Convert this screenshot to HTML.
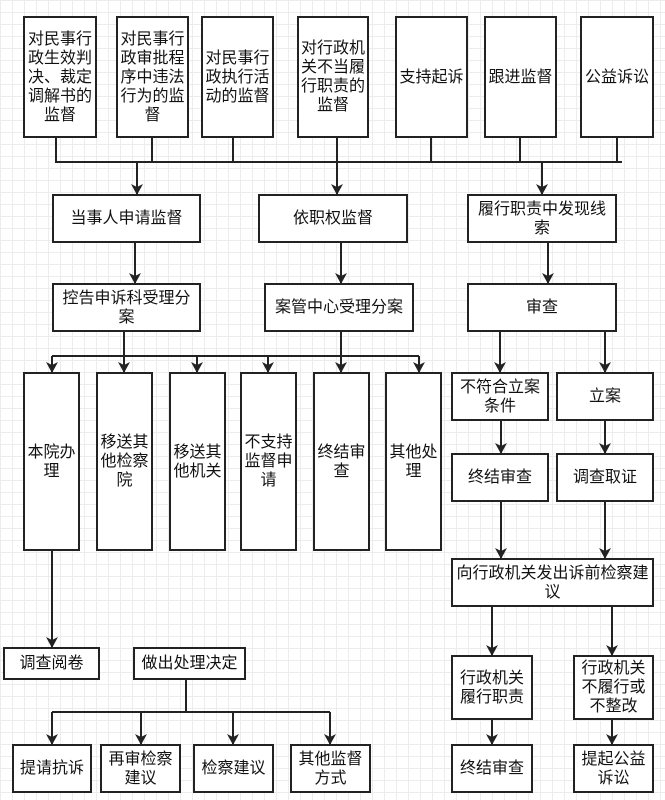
<!DOCTYPE html>
<html><head><meta charset="utf-8"><style>
body{margin:0;width:665px;height:800px;overflow:hidden;background:#fff;
background-image:linear-gradient(#ececec 1px,transparent 1px),linear-gradient(90deg,#ececec 1px,transparent 1px);background-size:12px 12px;
font-family:"Liberation Sans","Noto Sans CJK SC",sans-serif;position:relative}
.b{position:absolute;box-sizing:border-box;border:2px solid #222;background:#fff;display:flex;align-items:center;justify-content:center;text-align:center;font-size:16px;line-height:19px;color:#111;padding:0 2px}
svg{position:absolute;left:0;top:0;z-index:5}
</style></head><body>
<svg width="665" height="800">
<defs><marker id="a" markerWidth="10" markerHeight="10" refX="4" refY="8" orient="auto" markerUnits="userSpaceOnUse" viewBox="0 0 10 10"><path d="M0,0 L4,8 L8,0 L4,2 Z" fill="#222" transform="rotate(-90 4 4) translate(0 0)"/></marker></defs>
<g stroke="#222" stroke-width="2" fill="none">
<path d="M56,138V162M152,138V162M233,138V162M337,138V162M431,138V162M520,138V162M617,138V162M55,162H622"/>
<path d="M137,162V194M337,162V194M542,162V194"/>
<path d="M135,243V283M341,243V283M548,243V283"/>
<path d="M124,332V356M341,332V356M52,356H419"/>
<path d="M52,356V372M124,356V372M197,356V372M268,356V372M341,356V372M419,356V372"/>
<path d="M500,332V372M605,332V372M501,421V453M605,421V453M501,502V558M605,502V558M492,607V655M612,607V655M492,720V744M612,720V744"/>
<path d="M52,551V647"/>
<path d="M186,680V712M52,712H330"/>
<path d="M52,712V744M141,712V744M233,712V744M330,712V744"/>
</g>
<g fill="#222" id="ah">
<path d="M131,184 L137,195 L143,184 L137,187Z"/>
<path d="M331,184 L337,195 L343,184 L337,187Z"/>
<path d="M536,184 L542,195 L548,184 L542,187Z"/>
<path d="M129,273 L135,284 L141,273 L135,276Z"/>
<path d="M335,273 L341,284 L347,273 L341,276Z"/>
<path d="M542,273 L548,284 L554,273 L548,276Z"/>
<path d="M46,362 L52,373 L58,362 L52,365Z"/>
<path d="M118,362 L124,373 L130,362 L124,365Z"/>
<path d="M191,362 L197,373 L203,362 L197,365Z"/>
<path d="M262,362 L268,373 L274,362 L268,365Z"/>
<path d="M335,362 L341,373 L347,362 L341,365Z"/>
<path d="M413,362 L419,373 L425,362 L419,365Z"/>
<path d="M494,362 L500,373 L506,362 L500,365Z"/>
<path d="M599,362 L605,373 L611,362 L605,365Z"/>
<path d="M495,443 L501,454 L507,443 L501,446Z"/>
<path d="M599,443 L605,454 L611,443 L605,446Z"/>
<path d="M495,548 L501,559 L507,548 L501,551Z"/>
<path d="M599,548 L605,559 L611,548 L605,551Z"/>
<path d="M486,645 L492,656 L498,645 L492,648Z"/>
<path d="M606,645 L612,656 L618,645 L612,648Z"/>
<path d="M486,734 L492,745 L498,734 L492,737Z"/>
<path d="M606,734 L612,745 L618,734 L612,737Z"/>
<path d="M46,637 L52,648 L58,637 L52,640Z"/>
<path d="M46,734 L52,745 L58,734 L52,737Z"/>
<path d="M135,734 L141,745 L147,734 L141,737Z"/>
<path d="M227,734 L233,745 L239,734 L233,737Z"/>
<path d="M324,734 L330,745 L336,734 L330,737Z"/>
</g></svg>
<div class="b" style="left:23px;top:16px;width:74px;height:122px">对民事行政生效判决、裁定调解书的监督</div>
<div class="b" style="left:116px;top:16px;width:73px;height:122px">对民事行政审批程序中违法行为的监督</div>
<div class="b" style="left:201px;top:16px;width:73px;height:122px">对民事行政执行活动的监督</div>
<div class="b" style="left:297px;top:16px;width:72px;height:122px">对行政机关不当履行职责的监督</div>
<div class="b" style="left:395px;top:16px;width:73px;height:122px">支持起诉</div>
<div class="b" style="left:484px;top:16px;width:73px;height:122px">跟进监督</div>
<div class="b" style="left:580px;top:16px;width:74px;height:122px">公益诉讼</div>
<div class="b" style="left:52px;top:194px;width:149px;height:49px">当事人申请监督</div>
<div class="b" style="left:258px;top:194px;width:150px;height:49px">依职权监督</div>
<div class="b" style="left:467px;top:194px;width:150px;height:49px">履行职责中发现线索</div>
<div class="b" style="left:52px;top:283px;width:149px;height:49px">控告申诉科受理分案</div>
<div class="b" style="left:264px;top:283px;width:150px;height:49px">案管中心受理分案</div>
<div class="b" style="left:467px;top:283px;width:150px;height:49px">审查</div>
<div class="b" style="left:23px;top:372px;width:57px;height:179px">本院办理</div>
<div class="b" style="left:96px;top:372px;width:57px;height:179px">移送其他检察院</div>
<div class="b" style="left:169px;top:372px;width:57px;height:179px">移送其他机关</div>
<div class="b" style="left:240px;top:372px;width:57px;height:179px">不支持监督申请</div>
<div class="b" style="left:313px;top:372px;width:57px;height:179px">终结审查</div>
<div class="b" style="left:385px;top:372px;width:57px;height:179px">其他处理</div>
<div class="b" style="left:451px;top:372px;width:98px;height:49px">不符合立案条件</div>
<div class="b" style="left:556px;top:372px;width:98px;height:49px">立案</div>
<div class="b" style="left:451px;top:453px;width:98px;height:49px">终结审查</div>
<div class="b" style="left:556px;top:453px;width:98px;height:49px">调查取证</div>
<div class="b" style="left:451px;top:558px;width:203px;height:49px">向行政机关发出诉前检察建议</div>
<div class="b" style="left:451px;top:655px;width:82px;height:65px">行政机关履行职责</div>
<div class="b" style="left:573px;top:655px;width:81px;height:65px">行政机关不履行或不整改</div>
<div class="b" style="left:451px;top:744px;width:82px;height:49px">终结审查</div>
<div class="b" style="left:573px;top:744px;width:81px;height:49px">提起公益诉讼</div>
<div class="b" style="left:3px;top:647px;width:97px;height:33px">调查阅卷</div>
<div class="b" style="left:133px;top:647px;width:113px;height:33px">做出处理决定</div>
<div class="b" style="left:12px;top:744px;width:80px;height:49px">提请抗诉</div>
<div class="b" style="left:100px;top:744px;width:81px;height:49px">再审检察建议</div>
<div class="b" style="left:193px;top:744px;width:81px;height:49px">检察建议</div>
<div class="b" style="left:290px;top:744px;width:81px;height:49px">其他监督方式</div>
</body></html>
